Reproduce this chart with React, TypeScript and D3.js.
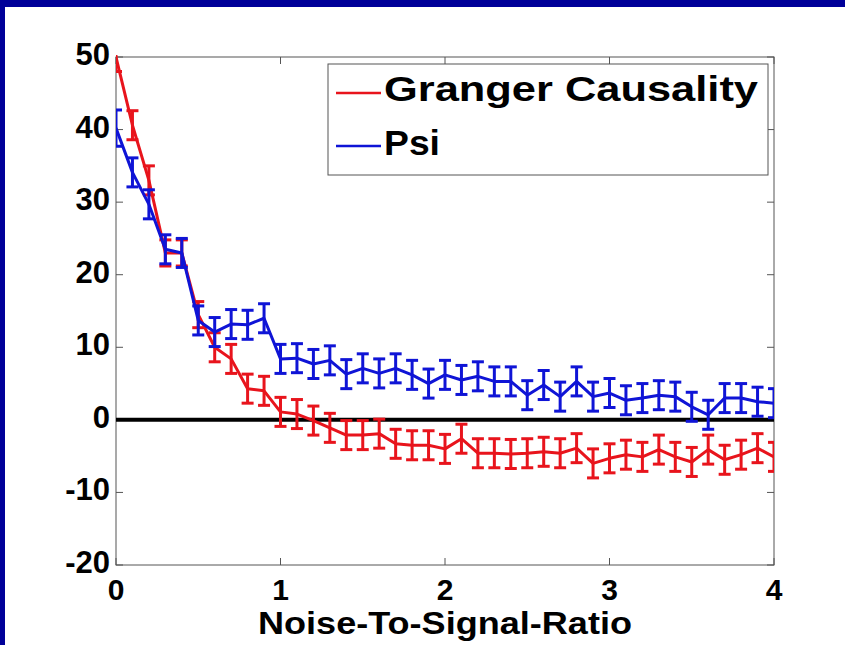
import React, { useEffect } from "react";
import * as d3 from "d3";

const xValues = [0,0.1,0.2,0.3,0.4,0.5,0.6,0.7,0.8,0.9,1.0,1.1,1.2,1.3,1.4,1.5,1.6,1.7,1.8,1.9,2.0,2.1,2.2,2.3,2.4,2.5,2.6,2.7,2.8,2.9,3.0,3.1,3.2,3.3,3.4,3.5,3.6,3.7,3.8,3.9,4.0];
const grangerValues = [50,40.6,33,23,23,14.5,10,8.4,4.3,4.0,1.1,0.8,-0.1,-1.1,-2.1,-2.1,-1.9,-3.3,-3.5,-3.5,-4.0,-2.6,-4.6,-4.6,-4.7,-4.6,-4.4,-4.6,-3.9,-6.0,-5.3,-4.8,-5.1,-4.1,-5.1,-5.8,-4.1,-5.5,-4.8,-3.9,-5.1];
const grangerErr = [2,2,2,1.8,1.8,1.8,2,2,2,2,2,2,2,2,2,2,2,2,2,2,2,2,2,2,2,2,2,2,2,2,2,2,2,2,2,2,2,2,2,2,2];
const psiValues = [40.2,34.1,29.7,23.5,23,13.7,12.1,13.2,13.1,14.0,8.4,8.5,7.7,8.2,6.3,7.1,6.4,7.1,6.2,5.0,6.2,5.5,6.0,5.3,5.3,3.4,4.8,3.2,5.3,3.2,3.7,2.7,3.0,3.4,3.2,1.8,0.7,3.0,3.0,2.5,2.3];
const psiErr = [2.5,2,2,2,2,2,2,2,2,2,2,2,2,2,2,2,2,2,2,2,2,2,2,2,2,2,2,2,2,2,2,2,2,2,2,2,2,2,2,2,2];
const xTicks = [0,1,2,3,4];
const yTicks = [-20,-10,0,10,20,30,40,50];
const seriesNames = ["Granger Causality", "Psi"];
const xLabel = "Noise-To-Signal-Ratio";

const W = 845, H = 645;
const L = 116, R = 774, T = 57, B = 565;
const NAVY = "#000099";
const RED = "#e8141c";
const BLUE = "#0f14d6";
const FONT = "'Liberation Sans', Arial, sans-serif";

export default function App() {
  useEffect(() => {
    document.body.style.margin = "0";
    document.body.style.overflow = "hidden";
  }, []);
  const x = d3.scaleLinear().domain([0, 4]).range([L, R]);
  const y = d3.scaleLinear().domain([-20, 50]).range([B, T]);
  const line = d3.line<number>().x((_, i) => x(xValues[i])).y((v) => y(v));
  const series = [
    { name: seriesNames[0], vals: grangerValues, err: grangerErr, color: RED, len: 374 },
    { name: seriesNames[1], vals: psiValues, err: psiErr, color: BLUE, len: 56 },
  ];
  const cap = 6;
  const tick = 7;
  const legendLineY = [93, 146];
  const legendBase = [101, 155];
  return (
    <svg width={W} height={H} style={{ position: "absolute", left: 0, top: 0, background: "#fff", display: "block" }}>
      <defs>
        <clipPath id="plotclip">
          <rect x={L} y={T - 2} width={R - L} height={B - T + 2} />
        </clipPath>
      </defs>
      <rect x={0} y={0} width={W} height={H} fill="#fff" />
      <rect x={0} y={0} width={W} height={7} fill={NAVY} />
      <rect x={0} y={0} width={5} height={H} fill={NAVY} />
      <rect x={L} y={T} width={R - L} height={B - T} fill="#fff" stroke="#555" strokeWidth={1} />
      {xTicks.map((t) => (
        <g key={"xt" + t}>
          <line x1={x(t)} x2={x(t)} y1={B} y2={B - tick} stroke="#555" />
          <line x1={x(t)} x2={x(t)} y1={T} y2={T + tick} stroke="#555" />
          <text x={x(t)} y={600} textAnchor="middle" fontFamily={FONT} fontWeight="bold" fontSize={30} fill="#000">{t}</text>
        </g>
      ))}
      {yTicks.map((t) => (
        <g key={"yt" + t}>
          <line x1={L} x2={L + tick} y1={y(t)} y2={y(t)} stroke="#555" />
          <line x1={R} x2={R - tick} y1={y(t)} y2={y(t)} stroke="#555" />
          <text x={110} y={y(t) + 8} textAnchor="end" fontFamily={FONT} fontWeight="bold" fontSize={31} fill="#000">{t}</text>
        </g>
      ))}
      <line x1={L} x2={R} y1={y(0)} y2={y(0)} stroke="#000" strokeWidth={4} />
      <g clipPath="url(#plotclip)">
        {series.map((s) => (
          <g key={s.name}>
            <path d={line(s.vals) || ""} fill="none" stroke={s.color} strokeWidth={3} strokeLinejoin="round" />
            {s.vals.map((v, i) => {
              const cx = x(xValues[i]);
              const y1 = y(v + s.err[i]);
              const y2 = y(v - s.err[i]);
              return (
                <g key={i} stroke={s.color} strokeWidth={3}>
                  <line x1={cx} x2={cx} y1={y1} y2={y2} />
                  <line x1={cx - cap} x2={cx + cap} y1={y1} y2={y1} />
                  <line x1={cx - cap} x2={cx + cap} y1={y2} y2={y2} />
                </g>
              );
            })}
          </g>
        ))}
      </g>
      <rect x={328} y={64} width={440} height={111} fill="#fff" stroke="#555" strokeWidth={1} />
      {series.map((s, i) => (
        <g key={"lg" + i}>
          <line x1={336} x2={381} y1={legendLineY[i]} y2={legendLineY[i]} stroke={s.color} strokeWidth={2.5} />
          <text x={384} y={legendBase[i]} fontFamily={FONT} fontWeight="bold" fontSize={35} fill="#000" textLength={s.len} lengthAdjust="spacingAndGlyphs">{s.name}</text>
        </g>
      ))}
      <text x={258} y={634} fontFamily={FONT} fontWeight="bold" fontSize={31} fill="#000" textLength={374} lengthAdjust="spacingAndGlyphs">{xLabel}</text>
    </svg>
  );
}
